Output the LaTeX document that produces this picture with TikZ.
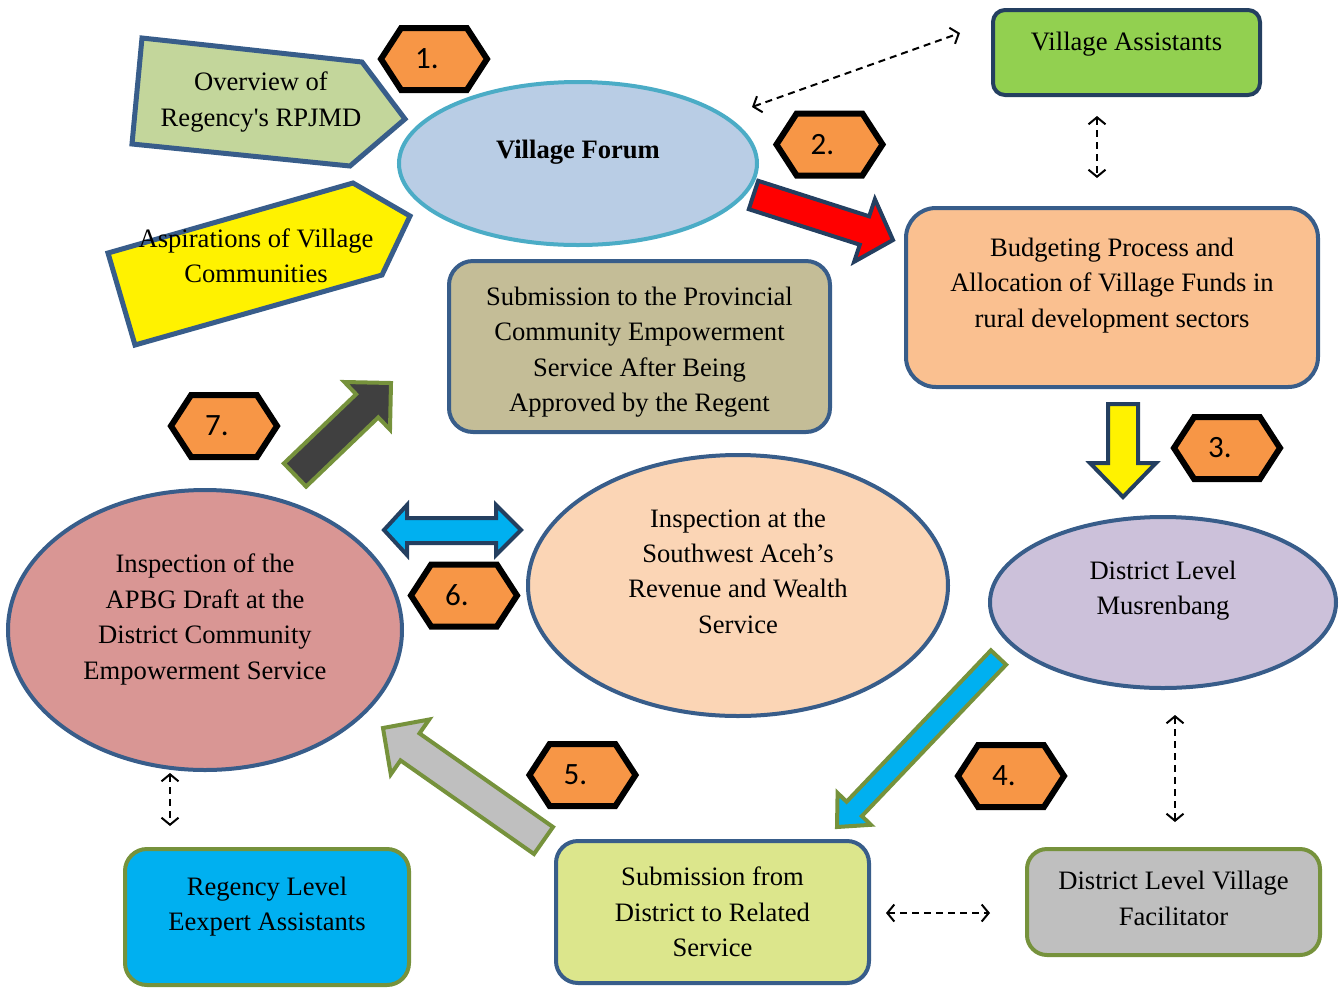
\documentclass[tikz,border=0pt]{standalone}
\usepackage{fontspec}
\setmainfont{Liberation Serif}
\newfontfamily\numfont{Carlito}
\usetikzlibrary{shapes.geometric,shapes.symbols,arrows.meta}

\definecolor{edgeblue}{HTML}{385D8A}
\definecolor{navyedge}{HTML}{243F60}
\definecolor{oliveedge}{HTML}{76923C}
\definecolor{tealedge}{HTML}{4BACC6}
\definecolor{hexorange}{HTML}{F79646}
\definecolor{forumfill}{HTML}{B9CDE5}
\definecolor{assistfill}{HTML}{92D050}
\definecolor{budgetfill}{HTML}{FAC090}
\definecolor{provfill}{HTML}{C4BD97}
\definecolor{swfill}{HTML}{FBD5B5}
\definecolor{musfill}{HTML}{CCC1DA}
\definecolor{apbgfill}{HTML}{D99694}
\definecolor{regfill}{HTML}{00B0F0}
\definecolor{subfill}{HTML}{DCE68C}
\definecolor{facfill}{HTML}{BFBFBF}
\definecolor{overfill}{HTML}{C3D69B}
\definecolor{darkfill}{HTML}{404040}

\tikzset{
  txt/.style={align=center,font=\fontsize{13.3}{17.7}\selectfont},
  hexa/.style={signal,signal to=west and east,signal pointer angle=114,draw=black,line width=3pt,
    fill=hexorange,minimum width=53pt,minimum height=31pt,inner sep=0pt,
    font=\numfont\fontsize{15.5}{17}\selectfont},
  bubble/.style={ellipse,draw=edgeblue,line width=2pt,inner sep=0pt},
  card/.style={rectangle,draw=edgeblue,line width=2pt,inner sep=0pt,rounded corners=12pt},
  blockarrow/.style={line width=2pt,line join=miter},
  dasharrow/.style={dashed,dash pattern=on 3.5pt off 2.5pt,line width=1pt,
    {Straight Barb[length=3.5pt,width=8.5pt]}-{Straight Barb[length=3.5pt,width=8.5pt]}}
}

\begin{document}
\begin{tikzpicture}[x=0.5pt,y=-0.5pt]
	\useasboundingbox (0,0) rectangle (1341,987);
	% inputs to the forum
	\draw[line width=2.5pt,draw=edgeblue,fill=overfill] (142,38) -- (362,62) -- (405,119) -- (350,166) -- (132,144) -- cycle;
	\node[txt] (overview) at (261,102) {Overview of\\Regency\textquotesingle s RPJMD};
	\draw[line width=2.5pt,draw=edgeblue,fill=yellow] (108,253) -- (353,183) -- (410,216) -- (382,275) -- (135,345) -- cycle;
	\node[txt] (aspire) at (256,255.5) {Aspirations of Village\\Communities};
	% main stages
	\node[bubble,draw=tealedge,fill=forumfill,minimum width=179pt,minimum height=81.5pt,
		label={[txt,font=\fontsize{13.3}{17.7}\selectfont\bfseries,yshift=5.5pt]center:Village Forum}] (forum) at (578,163.5) {};
	\node[card,draw=navyedge,fill=assistfill,rounded corners=6pt,minimum width=133.5pt,minimum height=42.5pt,
		label={[txt,yshift=4pt]center:Village Assistants}] (assist) at (1126.5,52.5) {};
	\node[card,fill=budgetfill,rounded corners=15pt,minimum width=206pt,minimum height=89.5pt,
		label={[txt,yshift=6pt]center:{Budgeting Process and\\Allocation of Village Funds in\\rural development sectors}}] (budget) at (1112,297.5) {};
	\node[card,fill=provfill,minimum width=190.5pt,minimum height=85.5pt,
		label={[txt,yshift=-2.75pt]center:{Submission to the Provincial\\Community Empowerment\\Service After Being\\Approved by the Regent}}] (province) at (639.5,346.5) {};
	\node[bubble,fill=swfill,minimum width=210pt,minimum height=130.5pt,
		label={[txt,yshift=7.25pt]center:{Inspection at the\\Southwest Aceh’s\\Revenue and Wealth\\Service}}] (southwest) at (738,585.5) {};
	\node[bubble,fill=musfill,minimum width=173pt,minimum height=85.5pt,
		label={[txt,yshift=6pt]center:{District Level\\Musrenbang}}] (musren) at (1163,602.5) {};
	\node[bubble,fill=apbgfill,minimum width=197pt,minimum height=140pt,
		label={[txt,yshift=5.25pt]center:{Inspection of the\\APBG Draft at the\\District Community\\Empowerment Service}}] (apbg) at (205,630) {};
	\node[card,draw=oliveedge,fill=regfill,rounded corners=11pt,minimum width=142pt,minimum height=68pt,
		label={[txt,yshift=5.25pt]center:{Regency Level\\Eexpert Assistants}}] (regency) at (267,917) {};
	\node[card,fill=subfill,rounded corners=11pt,minimum width=156.5pt,minimum height=71pt,txt] (submit) at (712.5,912)
		{Submission from\\District to Related\\Service};
	\node[card,draw=oliveedge,fill=facfill,rounded corners=10pt,minimum width=146.5pt,minimum height=53pt,
		label={[txt,yshift=1.75pt]center:{District Level Village\\Facilitator}}] (facil) at (1173.5,902) {};
	% step numbers
	\node[hexa] (n1) at (434,59) {1.\kern7pt};
	\node[hexa] (n2) at (829.5,144.5) {2.\kern7pt};
	\node[hexa] (n3) at (1227,448) {3.\kern7pt};
	\node[hexa] (n4) at (1011,776) {4.\kern7pt};
	\node[hexa] (n5) at (582.5,775) {5.\kern7pt};
	\node[hexa] (n6) at (464,595.5) {6.\kern7pt};
	\node[hexa] (n7) at (224,426) {7.\kern7pt};
	% block arrows
	\draw[blockarrow,draw=navyedge,fill=red] (758.2,180.8) -- (869.2,216.3) -- (874.9,199.2) -- (893,240) -- (854.1,261.8) -- (859.8,244.7) -- (748.8,209.2) -- cycle;
	\draw[blockarrow,draw=navyedge,fill=yellow] (1108,404) -- (1138,404) -- (1138,463) -- (1156,463) -- (1123,497) -- (1090,463) -- (1108,463) -- cycle;
	\draw[blockarrow,draw=oliveedge,fill=regfill] (990.9,650.3) -- (846.6,801.7) -- (837.6,793) -- (837,827) -- (870.9,824.8) -- (861.9,816.1) -- (1006.1,664.7) -- cycle;
	\draw[blockarrow,draw=oliveedge,fill=facfill] (553,827) -- (419.5,733.4) -- (429.2,719.5) -- (383,728) -- (390.8,774.3) -- (400.5,760.4) -- (534,854) -- cycle;
	\draw[blockarrow,draw=navyedge,fill=regfill] (384,530) -- (407,505) -- (407,518) -- (496,518) -- (496,505) -- (521,530) -- (496,555) -- (496,543) -- (407,543) -- (407,555) -- cycle;
	\draw[blockarrow,draw=oliveedge,fill=darkfill] (283.9,463.4) -- (356.1,394.2) -- (344.4,382) -- (391,383) -- (390,429.6) -- (378.3,417.4) -- (306.1,486.6) -- cycle;
	% dashed links to helpers
	\coordinate (fa) at (752,107);
	\coordinate (fb) at (960,33);
	\coordinate (va) at (1097,116);
	\coordinate (vb) at (1097,178);
	\coordinate (ma) at (1175,715);
	\coordinate (mb) at (1175,822);
	\coordinate (sa) at (886,913);
	\coordinate (sb) at (990,913);
	\coordinate (aa) at (170,773);
	\coordinate (ab) at (170,826);
	\draw[dasharrow] (fa) -- (fb);
	\draw[dasharrow] (va) -- (vb);
	\draw[dasharrow] (ma) -- (mb);
	\draw[dasharrow] (sa) -- (sb);
	\draw[dasharrow] (aa) -- (ab);
\end{tikzpicture}
\end{document}
